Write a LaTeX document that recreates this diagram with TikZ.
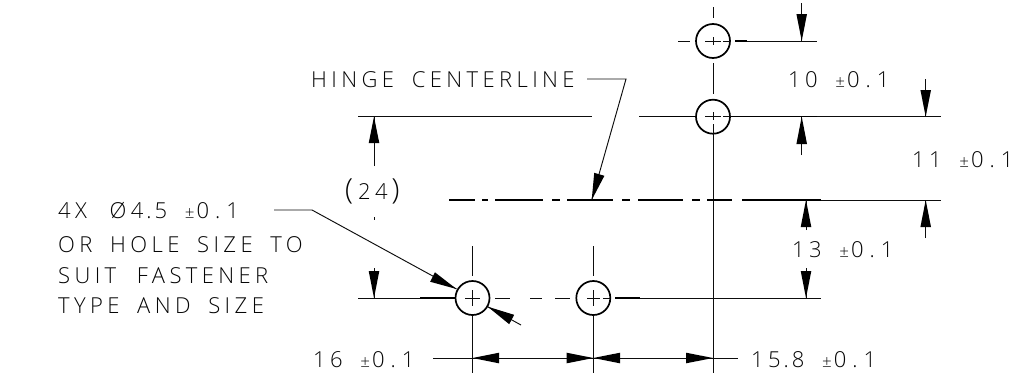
\documentclass[tikz,border=0pt]{standalone}
\usepackage{fontspec}
\setmainfont{Open Sans Light}[LetterSpace=20,WordSpace=1.75]
\usetikzlibrary{calc}
\definecolor{ink}{gray}{0.05}
\definecolor{tx}{gray}{0.02}
\newcommand{\pmt}{{\fontsize{17}{17}\selectfont ±}}
\newcommand{\tol}{\pmt\hspace{2pt}0\hspace{6pt}.\hspace{6pt}1}
\tikzset{
  x=1pt,y=-1pt,
  thinl/.style={draw=ink,line width=0.95pt},
  thickl/.style={draw=black,line width=2.2pt},
  midl/.style={draw=black,line width=1.05pt},
  hole/.style={circle,draw=black,line width=1.7pt,minimum size=34pt,inner sep=0pt},
  lbl/.style={anchor=base west,inner sep=0pt,text=tx,font=\fontsize{22}{22}\selectfont},
}
\newcommand{\arrowh}[2]{\fill[black] (#1) -- ($(#2)!5.3pt!90:(#1)$) -- ($(#2)!5.3pt!-90:(#1)$) -- cycle;}
\begin{document}
\begin{tikzpicture}
\useasboundingbox (0,0) rectangle (1032,383);
% holes
\node[hole] (h1) at (713,41) {};
\node[hole] (h2) at (713,116.7) {};
\node[hole] (h3) at (472.5,298) {};
\node[hole] (h4) at (593.3,298) {};
% top hole centre lines
\draw[thinl] (678,41)--(690,41) (705,41)--(721,41) (723,41)--(731,41) (735,41)--(817,41);
\draw[midl] (735,41)--(747,41);
\draw[thinl] (713,7)--(713,18) (713,37)--(713,45) (713,63)--(713,94);
\draw[thinl] (639,116.7)--(695,116.7) (705,116.7)--(721,116.7) (723,116.7)--(731,116.7) (731,116.7)--(941,116.7);
\draw[midl] (731,116.7)--(817,116.7) (660,116.7)--(695,116.7);
\draw[thinl] (713,112)--(713,120) (713,124)--(713,134);
\draw[thinl] (713,134)--(713,373);
\draw[thinl] (358,116.7)--(592,116.7);
% hinge centreline
\draw[thickl] (449,200)--(475,200) (482,200)--(488,200) (495,200)--(543,200) (552,200)--(560,200) (567,200)--(613,200) (622,200)--(630,200) (638,200)--(683,200) (692,200)--(700,200) (707,200)--(732,200) (742,200)--(821,200);
\draw[thinl] (821,200)--(941,200);
% lower line
\draw[thinl] (358,298)--(455,298) (465,298)--(480,298) (495,298)--(510,298) (530,298)--(542,298) (555,298)--(570,298) (587,298)--(600,298) (603,298)--(610,298) (615,298)--(821,298);
\draw[midl] (420,298)--(455,298) (615,298)--(640,298);
\draw[thinl] (472.5,246)--(472.5,276) (472.5,290)--(472.5,306) (472.5,316)--(472.5,373);
\draw[thinl] (593.3,246)--(593.3,276) (593.3,290)--(593.3,306) (593.3,316)--(593.3,373);
% dim 10
\coordinate (a10t) at (801.7,41); \coordinate (a10b) at (801.7,116.7);
\draw[thinl] (801.7,3)--(a10t); \arrowh{a10t}{801.7,14}
\draw[thinl] (801.7,155)--(a10b); \arrowh{a10b}{801.7,144}
% dim 11
\coordinate (a11t) at (925.7,116.7); \coordinate (a11b) at (925.7,200);
\draw[thinl] (925.7,79)--(a11t); \arrowh{a11t}{925.7,90}
\draw[thinl] (925.7,238)--(a11b); \arrowh{a11b}{925.7,227}
% dim 13
\coordinate (a13t) at (806,200); \coordinate (a13b) at (806,298);
\draw[thinl] (806,230)--(a13t); \arrowh{a13t}{806,227}
\draw[thinl] (806,268)--(a13b); \arrowh{a13b}{806,271}
% dim 24
\coordinate (a24t) at (374,116.7); \coordinate (a24b) at (374,298);
\draw[thinl] (374,166)--(a24t); \arrowh{a24t}{374,143}
\draw[thinl] (374,268)--(a24b); \arrowh{a24b}{374,271}
\draw[thinl] (374,217)--(374,220);
% bottom dim
\coordinate (b1) at (472.5,358); \coordinate (b2) at (593.3,358); \coordinate (b3) at (713,358);
\draw[thinl] (433,358)--(738,358);
\arrowh{b1}{499,358} \arrowh{b2}{566.7,358} \arrowh{b2}{620,358} \arrowh{b3}{686,358}
% leaders
\coordinate (l4) at (456.5,289);
\draw[thinl] (274,210)--(312,210)--(l4); \arrowh{l4}{432.5,277}
\coordinate (l5) at (487.7,306.7);
\draw[thinl] (521,325)--(l5); \arrowh{l5}{511.7,319.5}
\coordinate (lh) at (591.7,200);
\draw[thinl] (587,79)--(626,79)--(lh); \arrowh{lh}{599.3,174.3}
% labels
\node[lbl] (t1) at (311,87) {HINGE CENTERLINE};
\node[lbl] (t2) at (788,87) {10 \tol};
\node[lbl] (t3) at (912,167) {11 \tol};
\node[lbl] (t4) at (792,257) {13 \tol};
\node[lbl] (t5) at (751,367) {15\hspace{3pt}.\hspace{3pt}8 \tol};
\node[lbl] (t6) at (313,367) {16 \tol};
\node[lbl] (t7) at (345,199) {{\fontsize{29}{29}\selectfont(}\hspace{5pt}24\hspace{4pt}{\fontsize{29}{29}\selectfont)}};
\node[lbl] (t8) at (58,218) {4X\hspace{5pt} Ø4\hspace{3pt}.\hspace{3pt}5 \tol};
\node[lbl] (t9) at (58,252) {OR HOLE SIZE TO};
\node[lbl] (t10) at (58,283) {SUIT\hspace{3pt} FASTENER};
\node[lbl] (t11) at (58,313) {TYPE AND SIZE};
\end{tikzpicture}
\end{document}
